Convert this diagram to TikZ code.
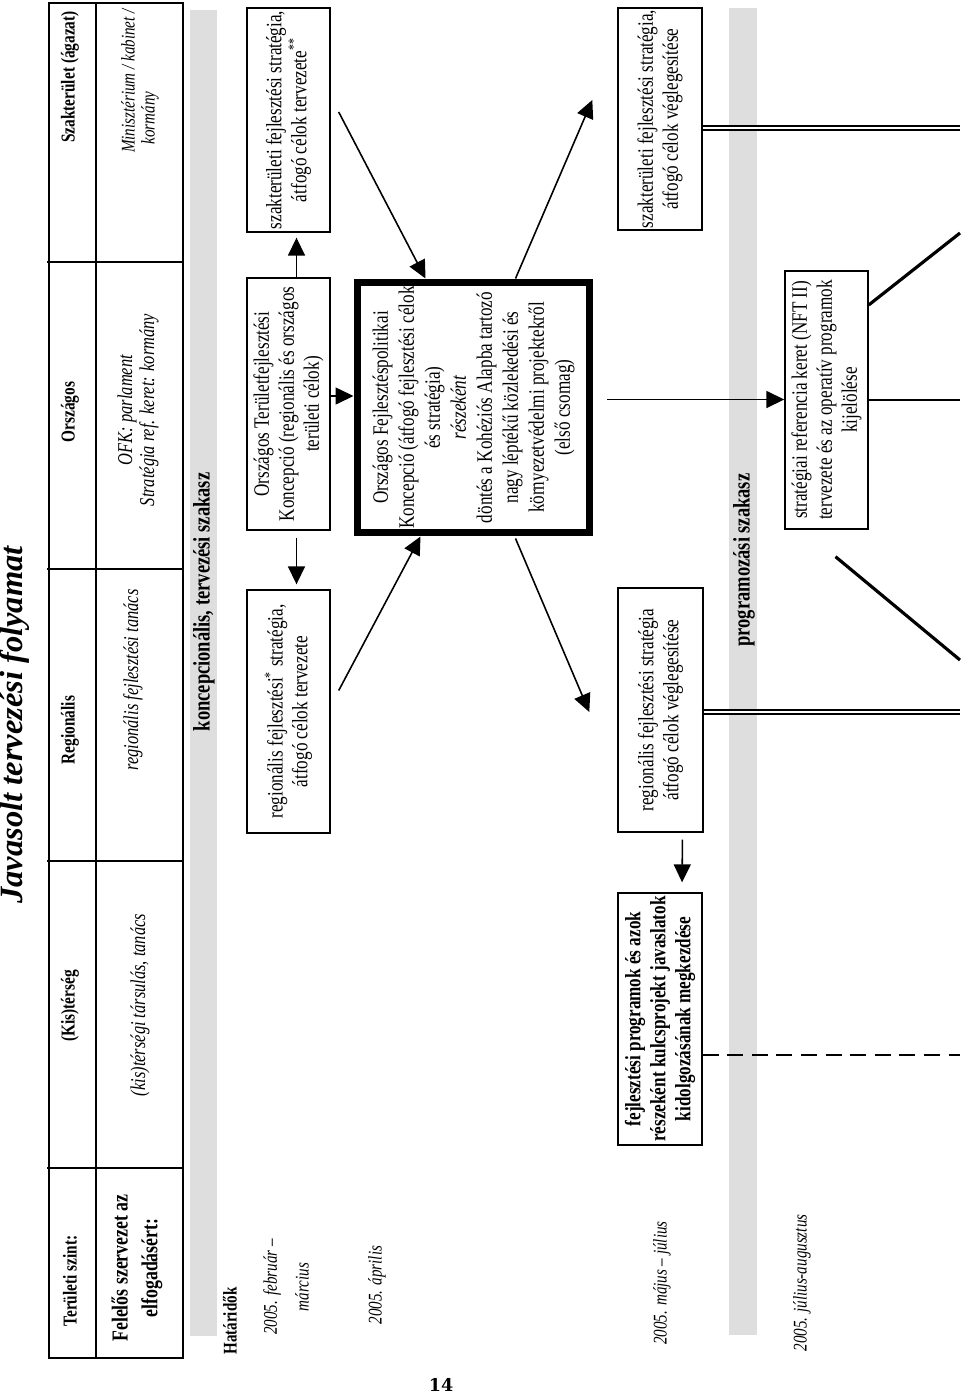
\documentclass[tikz,border=0pt]{standalone}
\usepackage{fontspec}
\setmainfont{Liberation Serif}[FakeStretch=0.78]
\newfontfamily\titlefont{Liberation Serif}
\newfontfamily\pagenofont{DejaVu Serif}
\usetikzlibrary{arrows.meta,calc}
\definecolor{bandgray}{RGB}{222,222,222}

\begin{document}
\begin{tikzpicture}[x=0.02cm, y=-0.02cm,
  box/.style={draw, line width=0.8pt, rotate=90, inner sep=0pt, align=center,
    font=\fontsize{12.5}{14.2}\selectfont},
  hdr/.style={rotate=90, align=center, font=\fontsize{11.2}{13}\selectfont\bfseries},
  resp/.style={rotate=90, align=center, font=\fontsize{12}{12.5}\selectfont\itshape},
  datum/.style={rotate=90, align=center, font=\fontsize{11}{18}\selectfont\itshape},
  bandlbl/.style={rotate=90, font=\fontsize{13.5}{14}\selectfont\bfseries},
  arr/.style={-{Triangle[length=0.36cm,width=0.34cm]}, line width=0.9pt},
  heavy/.style={line width=1.8pt},
  twin/.style={double, line width=1.1pt, double distance=1.6pt}]
  \fill[white] (0,0) rectangle (960,1396);
  \useasboundingbox (0,0) rectangle (960,1396);

  % title and page number
  \node[rotate=90, font=\titlefont\fontsize{18.5}{20}\selectfont\bfseries\itshape] (title) at (15,725) {Javasolt tervezési folyamat};
  \node[font=\pagenofont\fontsize{10}{12}\selectfont\bfseries] (pageno) at (441,1385) {14};

  % table
  \draw[line width=1.6pt] (49,3) rectangle (183,1358);
  \draw[line width=1.1pt] (96,3) -- (96,1358);
  \foreach \y in {262,569,861,1168}
    \draw[line width=1.1pt] (47,\y) -- (183,\y);
  \node[hdr] (hSzak) at (70,77) {Szakterület (ágazat)};
  \node[hdr] (hOrsz) at (70,412) {Országos};
  \node[hdr] (hReg) at (70,730) {Regionális};
  \node[hdr] (hKis) at (70,1006) {(Kis)térség};
  \node[hdr] (hSzint) at (70,1281) {Területi szint:};
  \node[resp, font=\fontsize{11}{12}\selectfont\itshape] (rSzak) at (128,81) {Minisztérium / kabinet /};
  \node[resp, font=\fontsize{11}{12}\selectfont\itshape] (rSzakB) at (150,118) {kormány};
  \node[resp] (rOrsz) at (138,410) {OFK: parlament\\ Stratégia ref. keret: kormány};
  \node[resp] (rReg) at (133,680) {regionális fejlesztési tanács};
  \node[resp] (rKis) at (140,1005) {(kis)térségi társulás, tanács};
  \node[hdr, font=\fontsize{13}{17}\selectfont\bfseries] (rSzint) at (137,1268) {Felelős szervezet az\\ elfogadásért:};

  % phases
  \fill[bandgray] (190,10) rectangle (217,1336);
  \node[bandlbl] (konc) at (204,602) {koncepcionális, tervezési szakasz};
  \fill[bandgray] (729,8) rectangle (757,1335);
  \node[bandlbl] (prog) at (744,560) {programozási szakasz};

  % deadlines
  \node[hdr, font=\fontsize{11}{12}\selectfont\bfseries] (hatar) at (230,1321) {Határidők};
  \node[datum] (d1) at (286,1287) {2005. február --\\ március};
  \node[datum] (d2) at (377,1285) {2005. április};
  \node[datum] (d3) at (662,1283) {2005. május -- július};
  \node[datum] (d4) at (802,1283) {2005. július-augusztus};

  % boxes
  \node[box, minimum width=4.48cm, minimum height=1.66cm] (szTerv) at (288.5,120)
    {szakterületi fejlesztési stratégia,\\ átfogó célok tervezete\textsuperscript{**}};
  \node[box, minimum width=5.04cm, minimum height=1.66cm] (otk) at (288.5,404)
    {Országos Területfejlesztési\\ Koncepció (regionális és országos\\ területi célok)};
  \node[box, minimum width=4.86cm, minimum height=1.66cm] (regTerv) at (288.5,711.5)
    {regionális fejlesztési\textsuperscript{*} stratégia,\\ átfogó célok tervezete};
  \node[box, line width=4pt, minimum width=5.02cm, minimum height=4.66cm,
    font=\fontsize{12.5}{14.8}\selectfont] (ofk) at (473.5,407.5)
    {Országos Fejlesztéspolitikai\\ Koncepció (átfogó fejlesztési célok\\ és stratégia)\\
     \textit{részeként}\\ döntés a Kohéziós Alapba tartozó\\ nagy léptékű közlekedési és\\
     környezetvédelmi projektekről\\ (első csomag)};
  \node[box, minimum width=4.44cm, minimum height=1.68cm] (szVegl) at (660,119)
    {szakterületi fejlesztési stratégia,\\ átfogó célok véglegesítése};
  \node[box, minimum width=4.88cm, minimum height=1.7cm] (regVegl) at (660.5,710)
    {regionális fejlesztési stratégia\\ átfogó célok véglegesítése};
  \node[box, minimum width=5.04cm, minimum height=1.68cm, font=\fontsize{12.5}{14.2}\selectfont\bfseries] (prgm) at (660,1019)
    {fejlesztési programok és azok\\ részeként kulcsprojekt javaslatok\\ kidolgozásának megkezdése};
  \node[box, minimum width=5.16cm, minimum height=1.66cm] (srk) at (826.5,400)
    {stratégiai referencia keret (NFT II)\\ tervezete és az operatív programok\\ kijelölése};

  % arrows
  \draw[arr, shorten >=0.1cm] ($(otk.east)+(8,0)$) -- ($(szTerv.west)+(8,0)$);
  \draw[arr, shorten <=0.14cm, shorten >=0.1cm] ($(otk.west)+(8,0)$) -- ($(regTerv.east)+(8,0)$);
  \coordinate (otkOut) at ($(otk.south)+(0,-8)$);
  \draw[arr] (otkOut) -- (ofk.north |- otkOut);
  \coordinate (ofkOut) at ($(ofk.south)+(14,-8)$);
  \draw[arr] (ofkOut) -- (srk.north |- ofkOut);
  \draw[arr] ($(szTerv.south)+(8,-8)$) -- ($(ofk.east)+(-48,0)$);
  \draw[arr] ($(ofk.east)+(42,0)$) -- ($(szVegl.north)+(-25,-19)$);
  \draw[arr] ($(regTerv.south)+(8,-21)$) -- ($(ofk.west)+(-53,0)$);
  \draw[arr] ($(ofk.west)+(42,2)$) -- ($(regVegl.north)+(-28,2)$);
  \draw[arr, shorten <=0.14cm, shorten >=0.2cm] ($(regVegl.west)+(22,0)$) -- ($(prgm.east)+(22,0)$);

  % onward lines
  \coordinate (e1) at (960,128);
  \coordinate (e2) at (960,712);
  \coordinate (e3) at (960,1055);
  \coordinate (e4) at (960,233);
  \coordinate (e5) at (960,400);
  \coordinate (e6) at (960,660);
  \draw[twin] (szVegl.south |- e1) -- (e1);
  \draw[twin] (regVegl.south |- e2) -- (e2);
  \draw[dashed, line width=0.9pt, dash pattern=on 9pt off 5pt] (prgm.south |- e3) -- (e3);
  \draw[heavy] ($(srk.south)+(0,-95)$) -- (e4);
  \draw[line width=0.9pt] (srk.south) -- (e5);
  \draw[heavy] ($(srk.west)+(9,27)$) -- (e6);
\end{tikzpicture}
\end{document}
